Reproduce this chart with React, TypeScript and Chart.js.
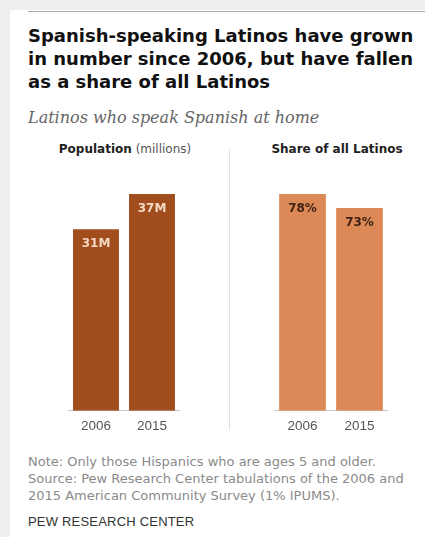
import React, { useEffect, useRef } from "react";
import { Chart, registerables } from "chart.js";

Chart.register(...registerables);

const years = ["2006", "2015"];
const populationMillions = [31, 37];
const populationLabels = ["31M", "37M"];
const shareOfLatinos = [78, 73];
const shareLabels = ["78%", "73%"];

type PanelProps = {
  values: number[];
  labels: string[];
  color: string;
  labelColor: string;
  max: number;
  left: number;
  width: number;
};

function BarPanel({ values, labels, color, labelColor, max, left, width }: PanelProps) {
  const ref = useRef<HTMLCanvasElement | null>(null);
  useEffect(() => {
    if (!ref.current) return;
    const labelPlugin = {
      id: "inBarLabels",
      afterDatasetsDraw(chart: any) {
        const ctx = chart.ctx;
        const meta = chart.getDatasetMeta(0);
        ctx.save();
        ctx.font = "bold 12px 'DejaVu Sans', Arial, sans-serif";
        ctx.fillStyle = labelColor;
        ctx.textAlign = "center";
        ctx.textBaseline = "middle";
        meta.data.forEach((bar: any, i: number) => {
          ctx.fillText(labels[i], bar.x, bar.y + 15);
        });
        ctx.restore();
      },
    };
    const chart = new Chart(ref.current, {
      type: "bar",
      data: {
        labels: years,
        datasets: [
          {
            data: values,
            backgroundColor: color,
            borderWidth: 0,
            categoryPercentage: 1,
            barPercentage: 0.82,
          },
        ],
      },
      options: {
        animation: false,
        responsive: true,
        maintainAspectRatio: false,
        layout: { padding: { top: 10, left: 0, right: 0, bottom: 0 } },
        plugins: { legend: { display: false }, tooltip: { enabled: false } },
        scales: {
          x: {
            grid: { display: false, drawTicks: false },
            border: { display: true, color: "#c8c8c8", width: 1 },
            ticks: {
              color: "#555",
              padding: 7,
              font: { family: "'Liberation Sans', Arial, sans-serif", size: 13.5 },
            },
          },
          y: { display: false, min: 0, max: max },
        },
      },
      plugins: [labelPlugin],
    });
    return () => chart.destroy();
  }, []);
  return (
    <div style={{ position: "absolute", left, top: 184, width, height: 257 }}>
      <canvas ref={ref} />
    </div>
  );
}

export default function App() {
  const sans = "'DejaVu Sans', Arial, sans-serif";
  return (
    <div
      style={{
        position: "fixed",
        left: 0,
        top: 0,
        width: 425,
        height: 537,
        background: "#efefef",
        overflow: "hidden",
        fontFamily: sans,
      }}
    >
      <div style={{ position: "absolute", left: 10, top: 10, right: 0, bottom: 0, background: "#fff" }} />
      <div style={{ position: "absolute", left: 28, top: 11, right: 0, height: 1, background: "#aaa" }} />
      <div
        style={{
          position: "absolute",
          left: 28,
          top: 24,
          width: 397,
          fontSize: 18,
          lineHeight: "23px",
          fontWeight: 700,
          color: "#111",
          whiteSpace: "nowrap",
        }}
      >
        Spanish-speaking Latinos have grown
        <br />
        in number since 2006, but have fallen
        <br />
        as a share of all Latinos
      </div>
      <div
        style={{
          position: "absolute",
          left: 28,
          top: 108,
          fontFamily: "'DejaVu Serif', Georgia, serif",
          fontStyle: "italic",
          fontSize: 16,
          color: "#666",
          whiteSpace: "nowrap",
        }}
      >
        Latinos who speak Spanish at home
      </div>
      <div
        style={{
          position: "absolute",
          left: 24,
          width: 202,
          top: 142,
          textAlign: "center",
          fontSize: 12,
          color: "#222",
        }}
      >
        <b>Population</b> <span style={{ color: "#555" }}>(millions)</span>
      </div>
      <div
        style={{
          position: "absolute",
          left: 236,
          width: 202,
          top: 142,
          textAlign: "center",
          fontSize: 12,
          color: "#222",
          fontWeight: 700,
        }}
      >
        Share of all Latinos
      </div>
      <div style={{ position: "absolute", left: 229, top: 150, width: 1, height: 280, background: "#e2e2e2" }} />
      <BarPanel
        values={populationMillions}
        labels={populationLabels}
        color="#a14d1d"
        labelColor="#f5d9c2"
        max={37}
        left={68}
        width={112}
      />
      <BarPanel
        values={shareOfLatinos}
        labels={shareLabels}
        color="#dd8957"
        labelColor="#3e2314"
        max={78}
        left={274}
        width={114}
      />
      <div
        style={{
          position: "absolute",
          left: 28,
          top: 453,
          width: 397,
          fontSize: 13,
          lineHeight: "17px",
          color: "#8a8a8a",
          whiteSpace: "nowrap",
        }}
      >
        Note: Only those Hispanics who are ages 5 and older.
        <br />
        Source: Pew Research Center tabulations of the 2006 and
        <br />
        2015 American Community Survey (1% IPUMS).
      </div>
      <div
        style={{
          position: "absolute",
          left: 28,
          top: 514,
          fontFamily: "'Liberation Sans', Arial, sans-serif",
          fontSize: 13,
          color: "#333",
          letterSpacing: 0.2,
          whiteSpace: "nowrap",
        }}
      >
        PEW RESEARCH CENTER
      </div>
    </div>
  );
}
